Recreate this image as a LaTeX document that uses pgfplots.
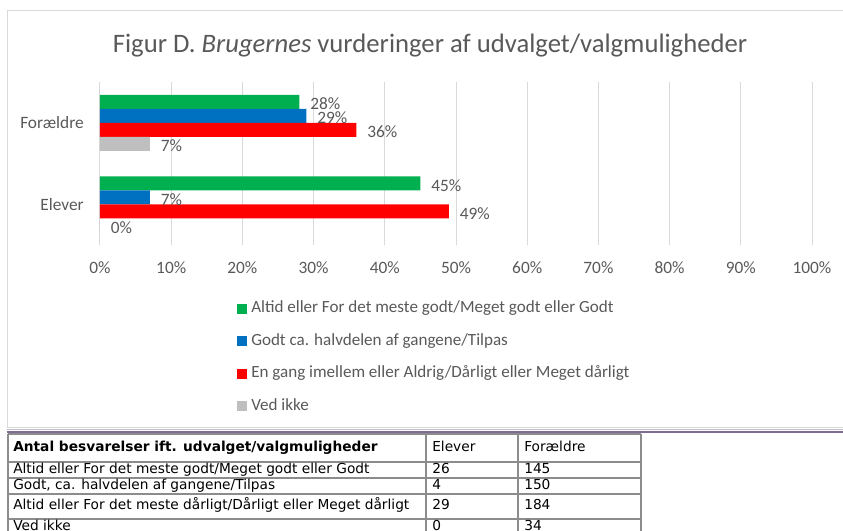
\documentclass[border=0pt]{standalone}
\usepackage{fontspec}
\setmainfont{Carlito}
\newfontfamily\tabfont{DejaVu Sans}
\usepackage{pgfplots}
\pgfplotsset{compat=1.18}
\definecolor{txt}{HTML}{595959}
\definecolor{cgreen}{HTML}{00B050}
\definecolor{cblue}{HTML}{0070C0}
\definecolor{cred}{HTML}{FF0000}
\definecolor{cgray}{HTML}{BFBFBF}
\definecolor{gridc}{HTML}{D9D9D9}
\definecolor{purp}{HTML}{7E6B91}
\definecolor{tabline}{HTML}{8C8C8C}
\begin{document}
\begin{tikzpicture}
\begin{scope}[x=0.75pt,y=-0.75pt]
\path[use as bounding box] (0,0) rectangle (843,531);
\draw[gridc, line width=0.75pt] (7,11) rectangle (860,427);
\draw[purp!45, line width=0.75pt] (7,429.5) -- (843,429.5);
\draw[purp, line width=0.9pt] (7,432) -- (843,432);
\node[txt, font=\fontsize{20}{24}\selectfont, anchor=base, inner sep=0pt] at (430,53) {Figur D. \textit{Brugernes} vurderinger af udvalget/valgmuligheder};
\coordinate (axSW) at (100,245);
\end{scope}
\begin{axis}[
  at={(axSW)}, anchor=south west, scale only axis,
  width=534pt, height=122.25pt,
  xbar, xmin=0, xmax=100, ymin=-0.5, ymax=1.5,
  ytick={0,1}, yticklabels={Elever,Forældre},
  xtick={0,10,...,100},
  xticklabel={\pgfmathprintnumber{\tick}\%},
  axis line style={draw=none}, major tick length=0pt,
  xmajorgrids, ymajorgrids=false, grid style={gridc, line width=0.75pt},
  tick label style={txt, font=\fontsize{13}{15}\selectfont},
  /pgf/number format/assume math mode=true,
  xticklabel style={anchor=north, inner sep=0pt, yshift=-12pt},
  yticklabel style={anchor=east, inner sep=0pt, xshift=-12pt},
  bar width=10.5pt,
  point meta=x,
  nodes near coords={\pgfmathprintnumber{\pgfplotspointmeta}\%},
  nodes near coords style={anchor=west, inner sep=0pt, xshift=8pt, yshift=-1.5pt, txt, font=\fontsize{13}{15}\selectfont},
  legend style={at={(axis description cs:0.1924,-0.337)}, anchor=north west, draw=none, fill=none, inner sep=0pt,
    row sep=11.9pt, font=\fontsize{12.8}{15}\selectfont, text=txt,
    nodes={inner sep=0pt, text height=9.5pt, text depth=3pt}},
  legend cell align=left,
  legend image code/.code={\fill[#1] (0pt,-3.75pt) rectangle (7.5pt,3.75pt); \path (10.5pt,0pt);},
]
\addplot[fill=cgreen, draw=none, bar shift=15.75pt] coordinates {(45,0) (28,1)};
\addplot[fill=cblue, draw=none, bar shift=5.25pt] coordinates {(7,0) (29,1)};
\addplot[fill=cred, draw=none, bar shift=-5.25pt] coordinates {(49,0) (36,1)};
\addplot[fill=cgray, draw=none, bar shift=-15.75pt] coordinates {(0,0) (7,1)};
\legend{Altid eller For det meste godt/Meget godt eller Godt,
        Godt ca. halvdelen af gangene/Tilpas,
        En gang imellem eller Aldrig/Dårligt eller Meget dårligt,
        Ved ikke}
\end{axis}
\begin{scope}[x=0.75pt,y=-0.75pt]
\clip (0,0) rectangle (843,531);
\fill[white] (8,434) rectangle (641,545);
\begin{scope}[tabline, line width=1.2pt]
\draw (8,434) -- (641,434);
\draw (8,462) -- (641,462);
\draw (8,478) -- (641,478);
\draw (8,494) -- (641,494);
\draw (8,519) -- (641,519);
\draw (8,434) -- (8,545);
\draw (426,434) -- (426,545);
\draw (518,434) -- (518,545);
\draw (641,434) -- (641,545);
\end{scope}
\begin{scope}[every node/.style={anchor=mid west, inner sep=0pt, font=\tabfont\fontsize{10.3}{12}\selectfont, text=black}]
\node at (13,448) {\bfseries Antal besvarelser ift. udvalget/valgmuligheder};
\node at (432,448) {Elever};
\node at (524,448) {Forældre};
\node at (13,470) {Altid eller For det meste godt/Meget godt eller Godt};
\node at (432,470) {26};
\node at (524,470) {145};
\node at (13,486) {Godt, ca. halvdelen af gangene/Tilpas};
\node at (432,486) {4};
\node at (524,486) {150};
\node at (13,506.5) {Altid eller For det meste dårligt/Dårligt eller Meget dårligt};
\node at (432,506.5) {29};
\node at (524,506.5) {184};
\node at (13,527) {Ved ikke};
\node at (432,527) {0};
\node at (524,527) {34};
\end{scope}
\end{scope}
\end{tikzpicture}
\end{document}
